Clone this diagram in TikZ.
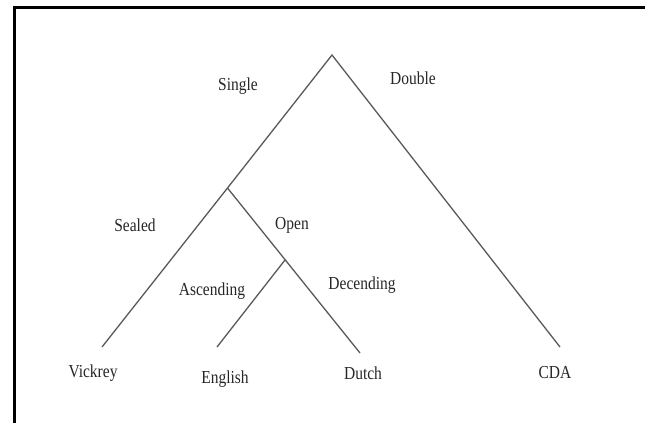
\documentclass[tikz,border=0pt]{standalone}
\usepackage{fontspec}
\setmainfont{Liberation Serif}
\newcommand{\tall}[1]{\scalebox{1}[1.18]{#1}}
\begin{document}
\begin{tikzpicture}[x=1pt,y=-1pt,
  branch/.style={draw=black!65, line width=1.3pt},
  lbl/.style={font=\fontsize{15.5}{18}\selectfont, text=black!85, inner sep=0pt},
  frame/.style={draw=black, line width=2.7pt}]
\useasboundingbox (0,0) rectangle (645,423);
% open frame on the top and left edges
\draw[frame] (14.3,423) -- (14.3,7.7) -- (645,7.7);

% tree nodes
\coordinate (root) at (332,55);
\coordinate (sealedopen) at (227.5,188);
\coordinate (ascdesc) at (285,260);
\coordinate (vick) at (102,347);
\coordinate (eng) at (217,347);
\coordinate (dut) at (360,353);
\coordinate (cda) at (560,347);

\draw[branch] (vick) -- (sealedopen) -- (root) -- (cda);
\draw[branch] (sealedopen) -- (dut);
\draw[branch] (ascdesc) -- (eng);

% branch labels
\node[lbl] (single) at (238,86) {\tall{Single}};
\node[lbl] (double) at (413,78) {\tall{Double}};
\node[lbl] (sealed) at (135,225) {\tall{Sealed}};
\node[lbl] (open) at (292,225) {\tall{Open}};
\node[lbl] (ascending) at (212,291) {\tall{Ascending}};
\node[lbl] (decending) at (362,285) {\tall{Decending}};

% leaves
\node[lbl] (vickrey) at (93,373) {\tall{Vickrey}};
\node[lbl] (english) at (225,379) {\tall{English}};
\node[lbl] (dutch) at (363,373) {\tall{Dutch}};
\node[lbl] (cdaL) at (555,373) {\tall{CDA}};
\end{tikzpicture}
\end{document}
